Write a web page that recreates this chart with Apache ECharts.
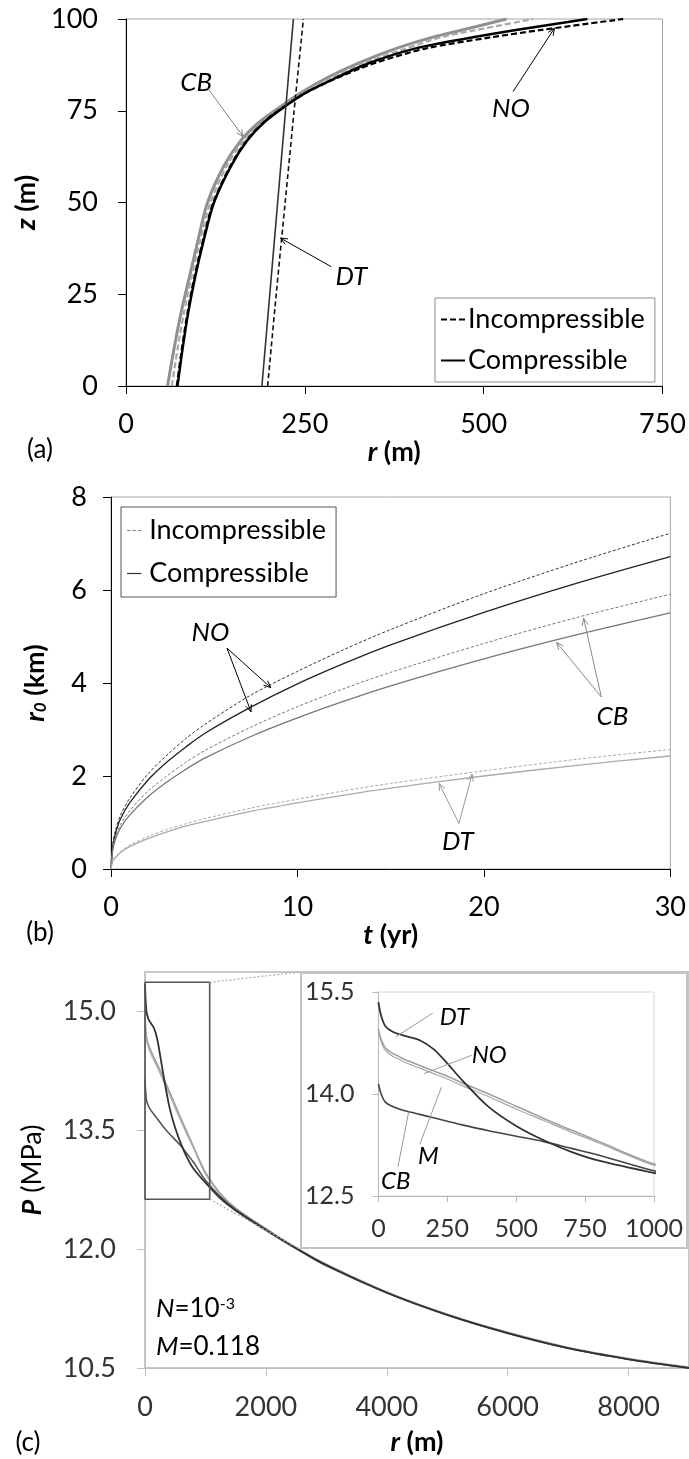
<!DOCTYPE html>
<html>
<head>
<meta charset="utf-8">
<title>Plume radius, front radius and pressure</title>
<script src="https://cdn.jsdelivr.net/npm/echarts@6.0.0/dist/echarts.min.js"></script>
<style>
  html, body { margin: 0; padding: 0; background: #fff; }
  #chart { position: absolute; left: 0; top: 0; width: 689px; height: 1459px; }
  #inset { position: absolute; left: 300px; top: 972px; width: 384px; height: 273px;
           border: 2px solid #c4c4c4; background: #fff; }
</style>
</head>
<body>
<div id="chart"></div>
<div id="inset"></div>
<script>
// (a) radius r (m) against height z (m)
const zA = [0, 10, 20, 30, 40, 50, 60, 67, 72, 76, 80, 84, 88, 92, 95, 97, 100];
const rA_NO_inc = [71, 78, 86, 96, 108, 122, 146, 169, 193, 220, 253, 296, 348, 420, 510, 580, 695];
const rA_NO_comp = [72, 79, 87, 97, 109, 123, 147, 170, 194, 221, 252, 294, 340, 405, 485, 545, 645];
const rA_CB_inc = [64, 72, 81, 92, 104, 118, 141, 165, 191, 218, 249, 287, 333, 392, 440, 490, 569];
const rA_CB_comp = [58, 67, 77, 89, 101, 114, 137, 161, 187, 215, 245, 281, 325, 378, 428, 470, 532];
const zA_DT = [0, 25, 50, 75, 100];
const rA_DT_inc = [198, 210, 222.5, 235, 248];
const rA_DT_comp = [190, 201, 212, 223, 234];

// (b) front radius r0 (km) against time t (yr)
const tB = [0, 0.1, 0.25, 0.5, 1, 2, 3, 4, 5, 7.5, 10, 12.5, 15, 20, 25, 30];
const rB_NO_inc = [0, 0.55, 0.85, 1.15, 1.52, 2.05, 2.45, 2.8, 3.1, 3.74, 4.25, 4.72, 5.15, 5.92, 6.6, 7.22];
const rB_NO_comp = [0, 0.5, 0.78, 1.07, 1.42, 1.92, 2.3, 2.62, 2.91, 3.48, 3.98, 4.42, 4.82, 5.52, 6.15, 6.72];
const rB_CB_inc = [0, 0.45, 0.7, 0.95, 1.25, 1.68, 2.0, 2.29, 2.54, 3.05, 3.49, 3.88, 4.23, 4.85, 5.41, 5.91];
const rB_CB_comp = [0, 0.42, 0.65, 0.88, 1.16, 1.56, 1.87, 2.14, 2.38, 2.85, 3.25, 3.61, 3.94, 4.52, 5.04, 5.51];
const rB_DT_inc = [0, 0.18, 0.27, 0.37, 0.51, 0.7, 0.85, 0.97, 1.08, 1.31, 1.5, 1.68, 1.84, 2.11, 2.36, 2.57];
const rB_DT_comp = [0, 0.17, 0.25, 0.35, 0.48, 0.66, 0.8, 0.92, 1.02, 1.24, 1.42, 1.59, 1.74, 2.0, 2.23, 2.43];

// (c) pressure P (MPa) against r (m)
const rC = [0, 10, 25, 50, 75, 100, 150, 200, 250, 300, 400, 500, 600, 700, 800, 1000,
            1250, 1500, 2000, 2500, 3000, 4000, 5000, 6000, 7000, 8000, 9000];
const pC_DT = [15.35, 15.15, 15.0, 14.92, 14.88, 14.85, 14.79, 14.66, 14.45, 14.22, 13.81, 13.53, 13.32, 13.15, 13.02, 12.84,
               12.64, 12.49, 12.24, 12.01, 11.8, 11.45, 11.17, 10.94, 10.75, 10.61, 10.5];
const pC_NO = [14.95, 14.8, 14.68, 14.6, 14.55, 14.5, 14.42, 14.34, 14.26, 14.17, 14.0, 13.82, 13.64, 13.47, 13.3, 12.97,
               12.7, 12.52, 12.26, 12.02, 11.81, 11.46, 11.18, 10.95, 10.76, 10.62, 10.51];
const pC_M = [14.93, 14.77, 14.64, 14.56, 14.51, 14.46, 14.38, 14.3, 14.22, 14.13, 13.96, 13.78, 13.61, 13.44, 13.28, 12.95,
              12.69, 12.51, 12.25, 12.02, 11.8, 11.46, 11.17, 10.95, 10.75, 10.61, 10.5];
const pC_CB = [14.15, 14.0, 13.88, 13.82, 13.78, 13.75, 13.7, 13.65, 13.6, 13.55, 13.46, 13.38, 13.3, 13.2, 13.1, 12.87,
               12.66, 12.5, 12.25, 12.01, 11.79, 11.45, 11.17, 10.94, 10.75, 10.61, 10.5];
// zoom box drawn in (c) around the inset range
const boxR = [0, 1070, 1070, 0, 0];
const boxP = [15.37, 15.37, 12.63, 12.63, 15.37];

// tick values
const ticksC_P = [10.5, 12, 13.5, 15];
const ticksC_r = [0, 2000, 4000, 6000, 8000];
const ticksIn_P = [12.5, 14, 15.5];

// annotations, in data coordinates
const notesA = [
  { text: 'CB', at: [98, 82.8], from: [114, 81.2], to: [[164, 67.9]], color: '#808080' },
  { text: 'NO', at: [538, 75.7], from: [541, 80.2], to: [[599, 97.5]], color: '#000' },
  { text: 'DT', at: [315, 29.7], from: [287, 32.5], to: [[216, 40.3]], color: '#000' }
];
const notesB = [
  { text: 'NO', at: [5.33, 5.08], from: [6.22, 4.75], to: [[8.57, 3.9], [7.51, 3.38]], color: '#000' },
  { text: 'CB', at: [26.9, 3.28], from: [26.3, 3.7], to: [[25.35, 5.39], [23.9, 4.87]], color: '#888' },
  { text: 'DT', at: [18.6, 0.58], from: [18.66, 0.98], to: [[17.6, 1.84], [19.37, 2.04]], color: '#999' }
];
const notesIn = [
  { text: 'DT', at: [276, 15.13], from: [197, 15.19], to: [[63, 14.84]], color: '#999' },
  { text: 'NO', at: [402, 14.57], from: [339, 14.57], to: [[165, 14.3]], color: '#999' },
  { text: 'M', at: [181, 13.09], from: [150, 13.26], to: [[229, 14.1]], color: '#999' },
  { text: 'CB', at: [63, 12.71], from: [71, 12.93], to: [[110, 13.74]], color: '#999' }
];

const FONT = 'Lato';
const FS = 27;
const pairs = (xs, ys) => xs.map((x, i) => [x, ys[i]]);
const plain = v => String(v);
const ICON_SOLID = 'path://M0,0h24v2h-24z';
const ICON_DASH = 'path://M0,0h6v2h-6zM9,0h6v2h-6zM18,0h6v2h-6z';

function line(name, gi, data, color, width, dash) {
  return {
    name: name, type: 'line', xAxisIndex: gi, yAxisIndex: gi, data: data,
    symbol: 'none', smooth: 0.3, silent: true,
    lineStyle: { color: color, width: width, type: dash || 'solid' },
    itemStyle: { color: color }
  };
}

function valueAxis(gi, o) {
  return Object.assign({
    gridIndex: gi, type: 'value',
    axisLine: { onZero: false, lineStyle: { color: '#000', width: 1 } },
    axisTick: { length: 8, lineStyle: { color: '#000' } },
    axisLabel: { fontSize: FS, color: '#000', fontFamily: FONT, margin: 25, formatter: plain },
    splitLine: { show: false },
    nameLocation: 'middle'
  }, o);
}

const boldName = (size) => ({
  fontSize: size, fontWeight: 'bold', color: '#000', fontFamily: FONT,
  rich: {
    i: { fontSize: size, fontWeight: 'bold', fontStyle: 'italic', fontFamily: FONT },
    s: { fontSize: 17, fontWeight: 'bold', fontStyle: 'italic', fontFamily: FONT, verticalAlign: 'bottom' }
  }
});

const chart = echarts.init(document.getElementById('chart'));
chart.setOption({
  animation: false,
  textStyle: { fontFamily: FONT },
  grid: [
    { left: 126, top: 19, width: 538, height: 367, show: true, borderColor: '#a6a6a6', borderWidth: 1 },
    { left: 111, top: 497, width: 561, height: 372, show: true, borderColor: '#a6a6a6', borderWidth: 1 },
    { left: 145, top: 972, width: 544, height: 396, show: true, borderColor: '#c8c8c8', borderWidth: 2 }
  ],
  xAxis: [
    valueAxis(0, { min: 0, max: 750, interval: 250, name: '{i|r} (m)', nameGap: 45, nameTextStyle: boldName(FS) }),
    valueAxis(1, { min: 0, max: 30, interval: 10, name: '{i|t} (yr)', nameGap: 46, nameTextStyle: boldName(FS) }),
    valueAxis(2, {
      min: 0, max: 9000, interval: 2000, name: '{i|r} (m)', nameGap: 61, nameTextStyle: boldName(FS),
      axisLine: { onZero: false, lineStyle: { color: '#c0c0c0', width: 1 } },
      axisTick: { length: 8, customValues: ticksC_r, lineStyle: { color: '#c0c0c0' } },
      axisLabel: { fontSize: FS, color: '#333', fontFamily: FONT, margin: 26, customValues: ticksC_r, formatter: plain }
    })
  ],
  yAxis: [
    valueAxis(0, { min: 0, max: 100, interval: 25, name: '{i|z} (m)', nameGap: 80, nameTextStyle: boldName(FS),
      axisLabel: { fontSize: FS, color: '#000', fontFamily: FONT, margin: 28, formatter: plain } }),
    valueAxis(1, { min: 0, max: 8, interval: 2, name: '{i|r}{s|0} (km)', nameGap: 62, nameTextStyle: boldName(FS),
      axisLabel: { fontSize: FS, color: '#000', fontFamily: FONT, margin: 24, formatter: plain } }),
    valueAxis(2, {
      min: 10.5, max: 15.5, interval: 1.5, name: '{i|P} (MPa)', nameGap: 99,
      nameTextStyle: { fontSize: FS, color: '#000', fontFamily: FONT,
        rich: { i: { fontSize: FS, fontWeight: 'bold', fontStyle: 'italic', fontFamily: FONT } } },
      axisLine: { onZero: false, lineStyle: { color: '#c0c0c0', width: 1 } },
      axisTick: { length: 8, customValues: ticksC_P, lineStyle: { color: '#c0c0c0' } },
      axisLabel: { fontSize: FS, color: '#333', fontFamily: FONT, margin: 29, customValues: ticksC_P,
        formatter: v => v.toFixed(1) }
    })
  ],
  legend: [
    { left: 435, top: 298, orient: 'vertical', selectedMode: false, itemWidth: 24, itemHeight: 2.5, itemGap: 14,
      padding: [8, 10, 8, 6], borderColor: '#8c8c8c', borderWidth: 1, backgroundColor: '#fff',
      textStyle: { fontSize: FS, color: '#000', fontFamily: FONT, padding: [0, 0, 0, -2] },
      data: [
        { name: 'a:Incompressible', icon: ICON_DASH, itemStyle: { color: '#000' } },
        { name: 'a:Compressible', icon: ICON_SOLID, itemStyle: { color: '#000' } }
      ],
      formatter: n => n.slice(2) },
    { left: 121, top: 507, orient: 'vertical', selectedMode: false, itemWidth: 24, itemHeight: 1.2, itemGap: 16,
      padding: [10, 10, 10, 6], borderColor: '#555', borderWidth: 1, backgroundColor: '#fff',
      textStyle: { fontSize: FS, color: '#000', fontFamily: FONT, padding: [0, 0, 0, -2] },
      data: [
        { name: 'b:Incompressible', icon: ICON_DASH, itemStyle: { color: '#888' } },
        { name: 'b:Compressible', icon: ICON_SOLID, itemStyle: { color: '#333' } }
      ],
      formatter: n => n.slice(2) }
  ],
  series: [
    // (a)
    line('CB comp', 0, pairs(rA_CB_comp, zA), '#909090', 3),
    line('CB inc', 0, pairs(rA_CB_inc, zA), '#a8a8a8', 2.2, [6, 3]),
    line('NO comp', 0, pairs(rA_NO_comp, zA), '#000', 2.5),
    line('NO inc', 0, pairs(rA_NO_inc, zA), '#000', 2.2, [6, 3]),
    line('DT comp', 0, pairs(rA_DT_comp, zA_DT), '#333', 1.6),
    line('DT inc', 0, pairs(rA_DT_inc, zA_DT), '#111', 1.6, [5, 3]),
    line('a:Incompressible', 0, [], '#000', 2, [4, 3]),
    line('a:Compressible', 0, [], '#000', 2),
    // (b)
    line('NO inc b', 1, pairs(tB, rB_NO_inc), '#333', 1, [3, 2]),
    line('NO comp b', 1, pairs(tB, rB_NO_comp), '#222', 1.3),
    line('CB inc b', 1, pairs(tB, rB_CB_inc), '#777', 1, [3, 2]),
    line('CB comp b', 1, pairs(tB, rB_CB_comp), '#777', 1.3),
    line('DT inc b', 1, pairs(tB, rB_DT_inc), '#aaa', 1, [3, 2]),
    line('DT comp b', 1, pairs(tB, rB_DT_comp), '#aaa', 1.3),
    line('b:Incompressible', 1, [], '#888', 1, [2, 2]),
    line('b:Compressible', 1, [], '#333', 1),
    // (c)
    line('NO c', 2, pairs(rC, pC_NO), '#a0a0a0', 1.6),
    line('M c', 2, pairs(rC, pC_M), '#a8a8a8', 1.2),
    line('CB c', 2, pairs(rC, pC_CB), '#555', 1.6),
    line('DT c', 2, pairs(rC, pC_DT), '#333', 1.8),
    Object.assign(line('zoom box', 2, pairs(boxR, boxP), '#555', 1.6), { smooth: false })
  ]
});

function noteGraphics(ch, gi, notes, fontSize, head) {
  const out = [];
  const toPx = (p) => ch.convertToPixel({ xAxisIndex: gi, yAxisIndex: gi }, p);
  notes.forEach(n => {
    const c = toPx(n.at);
    out.push({ type: 'text', x: c[0], y: c[1], z: 100,
      style: { text: n.text, font: 'italic ' + fontSize + 'px ' + FONT, fill: '#000',
               align: 'center', verticalAlign: 'middle' } });
    const a = toPx(n.from);
    n.to.forEach(t => {
      const b = toPx(t);
      out.push({ type: 'line', z: 100, shape: { x1: a[0], y1: a[1], x2: b[0], y2: b[1] },
        style: { stroke: n.color, lineWidth: 1 } });
      if (head) {
        const dx = b[0] - a[0], dy = b[1] - a[1], len = Math.hypot(dx, dy);
        const ux = dx / len, uy = dy / len;
        out.push({ type: 'polyline', z: 100,
          shape: { points: [[b[0] - ux * 7 - uy * 3, b[1] - uy * 7 + ux * 3], b,
                            [b[0] - ux * 7 + uy * 3, b[1] - uy * 7 - ux * 3]] },
          style: { stroke: n.color, lineWidth: 1, fill: null } });
      }
    });
  });
  return out;
}

const cornerTop = chart.convertToPixel({ xAxisIndex: 2, yAxisIndex: 2 }, [boxR[1], boxP[1]]);
const cornerBot = chart.convertToPixel({ xAxisIndex: 2, yAxisIndex: 2 }, [boxR[2], boxP[2]]);
const label = (text, x, y) => ({ type: 'text', x: x, y: y, z: 100,
  style: { text: text, font: '26px ' + FONT, fill: '#000', align: 'center', verticalAlign: 'middle' } });

chart.setOption({
  graphic: [].concat(
    noteGraphics(chart, 0, notesA, 26, true),
    noteGraphics(chart, 1, notesB, 26, true),
    [
      label('(a)', 40, 450), label('(b)', 40, 933), label('(c)', 28, 1443),
      { type: 'line', z: 100, shape: { x1: cornerTop[0], y1: cornerTop[1], x2: 300, y2: 972 },
        style: { stroke: '#aaa', lineWidth: 1.2, lineDash: [2, 2] } },
      { type: 'line', z: 100, shape: { x1: cornerBot[0], y1: cornerBot[1], x2: 300, y2: 1249 },
        style: { stroke: '#aaa', lineWidth: 1.2, lineDash: [2, 2] } },
      { type: 'text', x: 156, y: 1309, z: 100,
        style: { text: '{i|N}=10{s|-3}', fill: '#000', verticalAlign: 'middle',
          font: '26px ' + FONT,
          rich: { i: { fontStyle: 'italic', fontSize: 26, fontFamily: FONT },
                  s: { fontSize: 16, fontFamily: FONT, verticalAlign: 'top' } } } },
      { type: 'text', x: 156, y: 1347, z: 100,
        style: { text: '{i|M}=0.118', fill: '#000', verticalAlign: 'middle',
          font: '26px ' + FONT,
          rich: { i: { fontStyle: 'italic', fontSize: 26, fontFamily: FONT } } } }
    ]
  )
});

// inset of (c): first 1000 m
const inset = echarts.init(document.getElementById('inset'));
inset.setOption({
  animation: false,
  textStyle: { fontFamily: FONT },
  grid: { left: 76, top: 18, width: 278, height: 204, show: true, borderColor: '#d4d4d4', borderWidth: 1 },
  xAxis: {
    type: 'value', min: 0, max: 1000, interval: 250,
    axisLine: { onZero: false, lineStyle: { color: '#b8b8b8' } },
    axisTick: { length: 6, lineStyle: { color: '#b8b8b8' } },
    axisLabel: { fontSize: 25, color: '#333', fontFamily: FONT, margin: 20, formatter: plain },
    splitLine: { show: false }
  },
  yAxis: {
    type: 'value', min: 12.5, max: 15.5,
    axisLine: { show: true, onZero: false, lineStyle: { color: '#b8b8b8' } },
    axisTick: { show: true, length: 6, customValues: ticksIn_P, lineStyle: { color: '#b8b8b8' } },
    axisLabel: { fontSize: 25, color: '#333', fontFamily: FONT, margin: 24, customValues: ticksIn_P,
      formatter: v => v.toFixed(1) },
    splitLine: { show: false }
  },
  series: [
    line('NO', 0, pairs(rC, pC_NO), '#a0a0a0', 1.6),
    line('M', 0, pairs(rC, pC_M), '#a8a8a8', 1.2),
    line('CB', 0, pairs(rC, pC_CB), '#444', 1.6),
    line('DT', 0, pairs(rC, pC_DT), '#333', 1.8)
  ]
});
inset.setOption({ graphic: noteGraphics(inset, 0, notesIn, 24, false) });
</script>
</body>
</html>
